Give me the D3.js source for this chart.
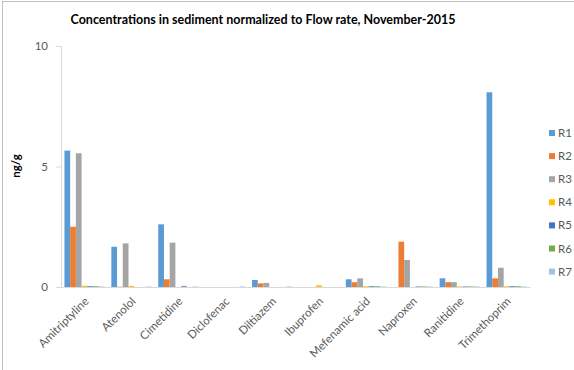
<!DOCTYPE html>
<html><head><meta charset="utf-8">
<script src="https://cdn.jsdelivr.net/npm/d3@7"></script>
<style>body{margin:0;background:#fff}svg{display:block}</style>
</head><body>
<script>
const categories = ["Amitriptyline","Atenolol","Cimetidine","Diclofenac","Diltiazem","Ibuprofen","Mefenamic acid","Naproxen","Ranitidine","Trimethoprim"];
const seriesNames = ["R1","R2","R3","R4","R5","R6","R7"];
const R1 = [5.66, 1.67, 2.60, 0.00, 0.29, 0.00, 0.32, 0.00, 0.36, 8.08];
const R2 = [2.50, 0.01, 0.32, 0.00, 0.15, 0.00, 0.20, 1.88, 0.20, 0.36];
const R3 = [5.55, 1.81, 1.84, 0.00, 0.17, 0.00, 0.36, 1.12, 0.20, 0.80];
const R4 = [0.05, 0.04, 0.00, 0.00, 0.00, 0.07, 0.03, 0.00, 0.02, 0.03];
const R5 = [0.03, 0.00, 0.03, 0.00, 0.00, 0.00, 0.03, 0.02, 0.02, 0.03];
const R6 = [0.03, 0.00, 0.00, 0.00, 0.00, 0.00, 0.03, 0.02, 0.02, 0.03];
const R7 = [0.02, 0.02, 0.02, 0.02, 0.02, 0.00, 0.02, 0.02, 0.02, 0.02];
const yTicks = [0, 5, 10];
const colors = ["#5B9BD5","#ED7D31","#A5A5A5","#FFC000","#4472C4","#70AD47","#9DC3E6"];
const seriesValues = [R1,R2,R3,R4,R5,R6,R7];

(function(){
const W = 574, H = 370;
const svg = d3.select("body").append("svg").attr("width", W).attr("height", H);
const font = "Lato, 'Open Sans', sans-serif";

// frame
svg.append("line").attr("x1",2.5).attr("x2",2.5).attr("y1",1).attr("y2",H).attr("stroke","#bfbfbf");
svg.append("line").attr("x1",2).attr("x2",W).attr("y1",1.5).attr("y2",1.5).attr("stroke","#bfbfbf");

const mLeft = 61, mRight = 530, mTop = 46, mBottom = 287;
const x0 = d3.scaleBand().domain(categories).range([mLeft, mRight]).padding(0);
const x1 = d3.scaleBand().domain(seriesNames).range([0, x0.bandwidth()]).paddingInner(0).paddingOuter(0.6);
const y = d3.scaleLinear().domain([0, 10]).range([mBottom, mTop]);

// title
svg.append("text").attr("x", 263).attr("y", 24).attr("text-anchor","middle")
  .attr("font-family", font).attr("font-weight","bold").attr("font-size", 12.5).attr("fill","#000")
  .text("Concentrations in sediment normalized to Flow rate, November-2015");

// y axis
const yAxis = svg.append("g").attr("transform", `translate(${mLeft},0)`)
  .call(d3.axisLeft(y).tickValues(yTicks).tickSize(5).tickPadding(8));
yAxis.select(".domain").attr("stroke","#d9d9d9");
yAxis.selectAll(".tick line").attr("stroke","#d9d9d9");
yAxis.selectAll(".tick text").attr("font-family", font).attr("font-size", 11.5).attr("fill","#595959");

svg.append("text").attr("transform", `translate(20,166) rotate(-90)`).attr("text-anchor","middle")
  .attr("font-family", font).attr("font-weight","bold").attr("font-size", 11.5).attr("fill","#000")
  .text("ng/g");

// bars
const groups = svg.append("g").selectAll("g").data(categories).join("g")
  .attr("transform", d => `translate(${x0(d)},0)`);
groups.selectAll("rect").data((c, i) => seriesNames.map((s, j) => ({s, v: seriesValues[j][i], j})))
  .join("rect")
  .attr("x", d => x1(d.s)).attr("width", x1.bandwidth())
  .attr("y", d => y(d.v)).attr("height", d => mBottom - y(d.v))
  .attr("fill", d => colors[d.j]);

// x axis
const xAxis = svg.append("g").attr("transform", `translate(0,${mBottom})`)
  .call(d3.axisBottom(x0).tickSize(0).tickPadding(0));
xAxis.select(".domain").attr("stroke","#d9d9d9");
xAxis.selectAll(".tick text").attr("font-family", font).attr("font-size", 11.5).attr("fill","#595959")
  .attr("text-anchor","end").attr("dy", 0)
  .attr("transform","translate(5,15) rotate(-45)");

// legend
const lg = svg.append("g").selectAll("g").data(seriesNames).join("g")
  .attr("transform", (d, i) => `translate(549,${133 + i * 23.1})`);
lg.append("rect").attr("x", 0).attr("y", -3).attr("width", 6).attr("height", 6).attr("fill", (d, i) => colors[i]);
lg.append("text").attr("x", 9).attr("y", 4).attr("font-family", font).attr("font-size", 11.5).attr("fill","#595959").text(d => d);
})();
</script>
</body></html>
